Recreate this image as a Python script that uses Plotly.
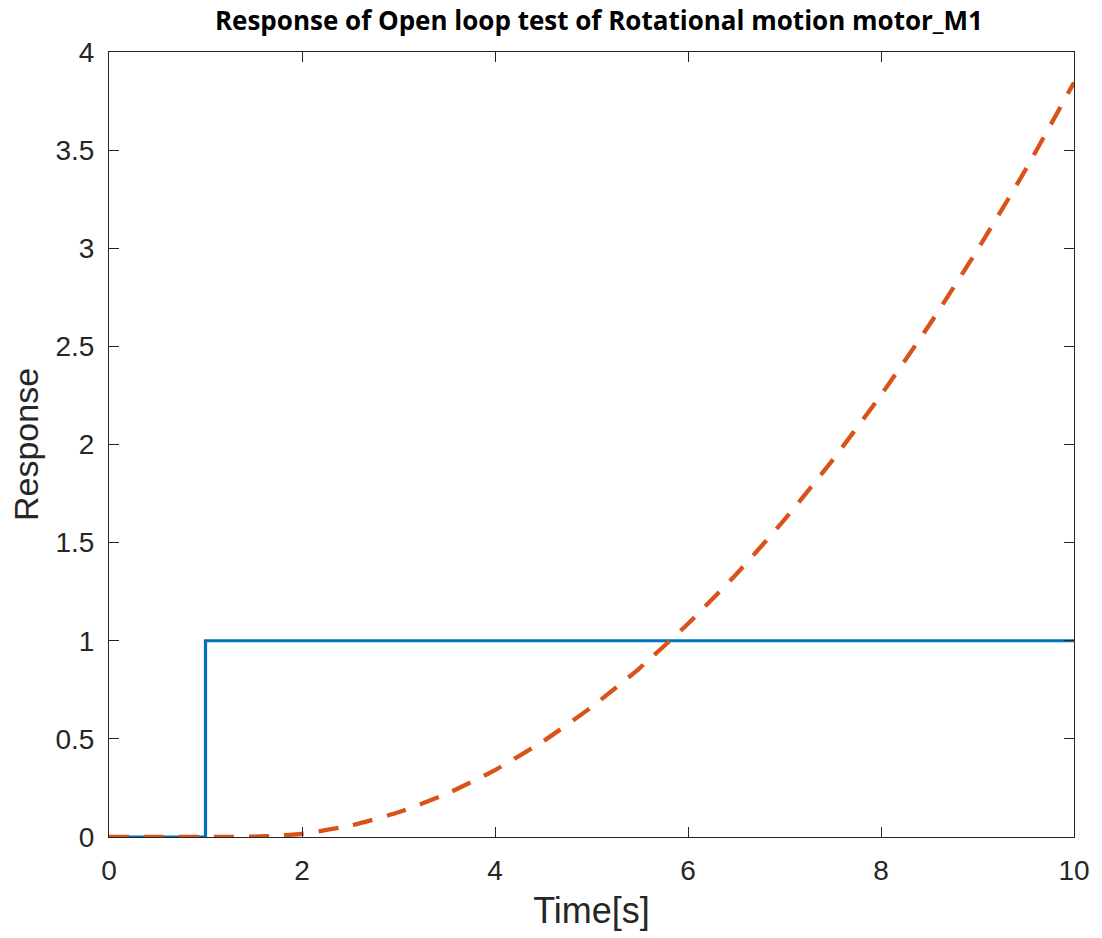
import plotly.graph_objects as go

# Reference (step input) series
t_step = [0, 1, 1, 10]
y_step = [0, 0, 1, 1]

# Motor response series
t_resp = [0, 0.5, 1, 1.25, 1.5, 1.75, 2, 2.5, 3, 3.5, 4, 4.5, 5, 5.5, 6, 6.5, 7, 7.5, 8, 8.5, 9, 9.5, 10]
y_resp = [0, 0, 0, 0.0, 0.002, 0.007, 0.016, 0.058, 0.126, 0.22, 0.341, 0.488, 0.662, 0.861,
          1.087, 1.339, 1.617, 1.922, 2.252, 2.609, 2.992, 3.402, 3.845]

x_ticks = [0, 2, 4, 6, 8, 10]
y_ticks = [0, 0.5, 1, 1.5, 2, 2.5, 3, 3.5, 4]
y_ticklabels = ["0", "0.5", "1", "1.5", "2", "2.5", "3", "3.5", "4"]

fig = go.Figure()
fig.add_trace(go.Scatter(x=t_step, y=y_step, mode="lines",
                         line=dict(color="#0072BD", width=3.2), showlegend=False))
fig.add_trace(go.Scatter(x=t_resp, y=y_resp, mode="lines",
                         line=dict(color="#D95319", width=4.3, dash="20px,15px", shape="spline", smoothing=0.5),
                         showlegend=False))

axis_common = dict(showline=True, linecolor="#262626", linewidth=1, mirror="ticks",
                   ticks="inside", ticklen=10, tickcolor="#262626", tickwidth=1,
                   showgrid=False, zeroline=False, ticklabelstandoff=8,
                   tickfont=dict(family="Liberation Sans, Arial, sans-serif", size=28, color="#262626"))

fig.update_layout(
    width=1102, height=938,
    paper_bgcolor="white", plot_bgcolor="white",
    margin=dict(l=109, r=25, t=52, b=101),
    title=dict(text="<b>Response of Open loop test of Rotational motion motor_M1</b>",
               font=dict(family="Open Sans, sans-serif", size=26, color="black"),
               x=0.5435, xanchor="center", y=0.978, yanchor="middle"),
    xaxis=dict(range=[0, 10], tickvals=x_ticks, ticktext=[str(v) for v in x_ticks],
               title=dict(text="Time[s]", font=dict(family="Liberation Sans, Arial, sans-serif", size=36, color="#262626"), standoff=13),
               **axis_common),
    yaxis=dict(range=[0, 4], tickvals=y_ticks, ticktext=y_ticklabels,
               title=dict(text="Response", font=dict(family="Liberation Sans, Arial, sans-serif", size=34, color="#262626"), standoff=6),
               **axis_common),
)

fig.write_html("out.html")
